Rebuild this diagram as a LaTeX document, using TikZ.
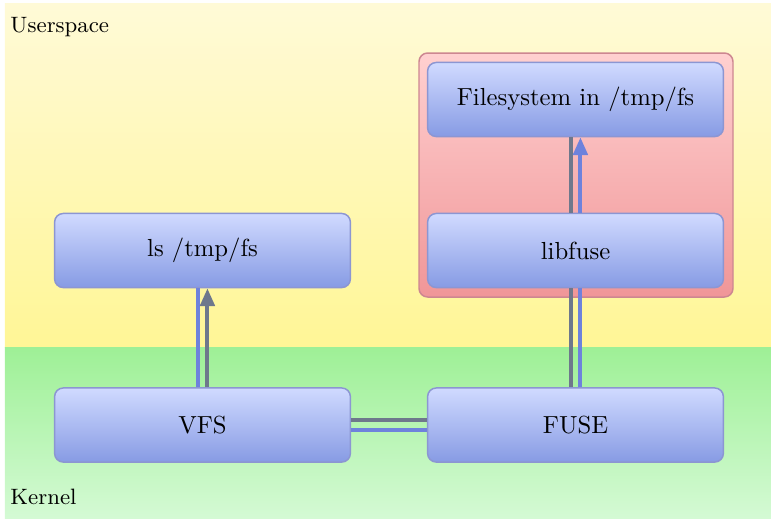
\documentclass[tikz,border=0pt]{standalone}
\usetikzlibrary{arrows.meta}
\definecolor{usertop}{RGB}{255,250,215}
\definecolor{userbot}{RGB}{255,246,150}
\definecolor{kerntop}{RGB}{158,240,150}
\definecolor{kernbot}{RGB}{212,250,212}
\definecolor{redtop}{RGB}{255,208,208}
\definecolor{redbot}{RGB}{240,150,152}
\definecolor{redline}{RGB}{205,135,145}
\definecolor{boxtop}{RGB}{208,218,255}
\definecolor{boxbot}{RGB}{135,155,228}
\definecolor{boxline}{RGB}{140,150,210}
\definecolor{grayline}{RGB}{110,120,140}
\definecolor{blueline}{RGB}{110,130,220}
\tikzset{
  blk/.style={draw=boxline, line width=0.6pt, rounded corners=3.5pt, top color=boxtop, bottom color=boxbot,
    minimum width=119.8pt, minimum height=30pt, inner sep=0pt},
  gl/.style={draw=grayline, line width=1.6pt},
  bl/.style={draw=blueline, line width=1.6pt},
  tip/.style={-{Triangle[width=5.8pt,length=7.2pt]}},
  region/.style={font=\small, anchor=west, inner sep=0pt}
}
\begin{document}
\begin{tikzpicture}[x=0.405pt, y=-0.405pt]
\useasboundingbox (0,0) rectangle (771,518);
\shade[top color=usertop, bottom color=userbot] (5,3) rectangle (771,347);
\shade[top color=kerntop, bottom color=kernbot] (5,347) rectangle (771,518);
\node[region] (us) at (10,27) {Userspace};
\node[region] (kn) at (10,497) {Kernel};
\draw[draw=redline, line width=0.6pt, rounded corners=3.5pt, top color=redtop, bottom color=redbot] (419,53) rectangle (733,297);
\node[blk] (fs) at (575.5,99.5) {Filesystem in /tmp/fs};
\node[blk] (lib) at (575.5,250.5) {libfuse};
\node[blk] (ls) at (202.5,250.5) {ls /tmp/fs};
\node[blk] (vfs) at (202.5,425) {VFS};
\node[blk] (fuse) at (575.5,425) {FUSE};
% VFS - ls
\draw[bl] ([xshift=-2pt]vfs.north) -- ([xshift=-2pt]ls.south);
\draw[gl, tip, draw=grayline, fill=grayline] ([xshift=2pt]vfs.north) -- ([xshift=2pt]ls.south);
% VFS - FUSE
\draw[gl] ([yshift=2pt]vfs.east) -- ([yshift=2pt]fuse.west);
\draw[bl] ([yshift=-2pt]vfs.east) -- ([yshift=-2pt]fuse.west);
% FUSE - libfuse
\draw[gl] ([xshift=-2pt]fuse.north) -- ([xshift=-2pt]lib.south);
\draw[bl] ([xshift=2pt]fuse.north) -- ([xshift=2pt]lib.south);
% libfuse - filesystem
\draw[gl] ([xshift=-2pt]lib.north) -- ([xshift=-2pt]fs.south);
\draw[bl, tip] ([xshift=2pt]lib.north) -- ([xshift=2pt]fs.south);
\end{tikzpicture}
\end{document}
